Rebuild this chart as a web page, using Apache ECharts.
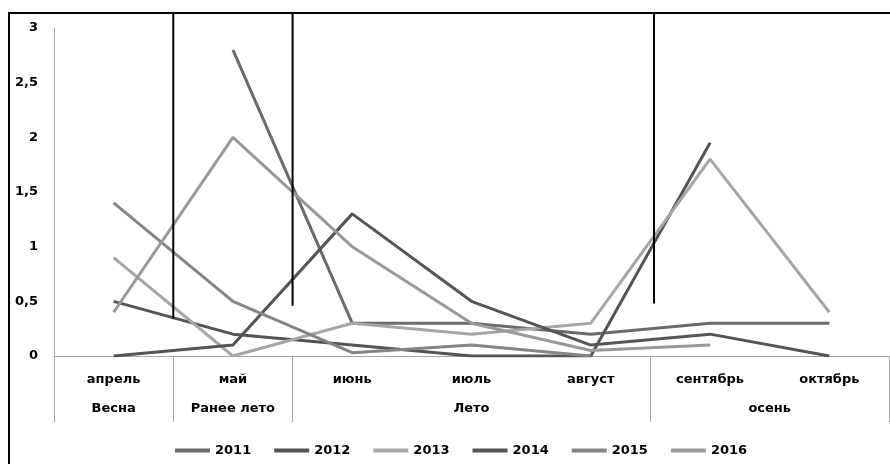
<!DOCTYPE html>
<html>
<head>
<meta charset="utf-8">
<script src="https://cdn.jsdelivr.net/npm/echarts@6/dist/echarts.min.js"></script>
<style>
  html, body { margin: 0; padding: 0; background: #fff; }
  #chart { width: 890px; height: 464px; }
</style>
</head>
<body>
<div id="chart"></div>
<script>
// Months on the inner axis row, seasons on the outer row
const months = ['апрель', 'май', 'июнь', 'июль', 'август', 'сентябрь', 'октябрь'];
const seasons = ['Весна', 'Ранее лето', 'Лето', 'осень'];
const seasonCenters = [0.5, 1.5, 3.5, 6];   // middle of each season span (in month units)
const seasonBounds = [0, 1, 2, 5, 7];        // season span borders (in month units)

// Values per year
const years = ['2011', '2012', '2013', '2014', '2015', '2016'];
const v2011 = [null, 2.8, 0.3, 0.3, 0.2, 0.3, 0.3];
const v2012 = [0.5, 0.2, 0.1, 0, 0, 1.95, null];
const v2013 = [0.9, 0, 0.3, 0.2, 0.3, 1.8, 0.4];
const v2014 = [0, 0.1, 1.3, 0.5, 0.1, 0.2, 0];
const v2015 = [1.4, 0.5, 0.03, 0.1, 0, null, null];
const v2016 = [0.4, 2.0, 1.0, 0.3, 0.05, 0.1, null];
const yearValues = [v2011, v2012, v2013, v2014, v2015, v2016];
const yearColors = ['#6b6b6b', '#545454', '#a6a6a6', '#555555', '#858585', '#999999'];

// Season divider strokes: position (month units) and the value where each stops
const dividerAt = [1, 2, 5.03];
const dividerEnd = [0.34, 0.46, 0.48];
const dividerTop = 3.14;

const FONT = 'DejaVu Sans';
const labelStyle = { color: '#000', fontFamily: FONT, fontWeight: 'bold', fontSize: 13 };

const chart = echarts.init(document.getElementById('chart'), null, { renderer: 'canvas' });

const option = {
  animation: false,
  backgroundColor: '#fff',
  grid: { left: 54, right: 1, top: 28, bottom: 108, containLabel: false },
  legend: {
    data: years,
    top: 439,
    left: 170,
    icon: 'rect',
    itemWidth: 35,
    itemHeight: 4,
    itemGap: 23,
    textStyle: labelStyle
  },
  xAxis: [
    {
      type: 'category',
      data: months,
      boundaryGap: true,
      position: 'bottom',
      axisLine: { show: true, lineStyle: { color: '#a6a6a6', width: 1 } },
      axisTick: { show: false },
      splitLine: { show: false },
      axisLabel: Object.assign({ margin: 17, interval: 0 }, labelStyle)
    },
    {
      type: 'value',
      min: 0,
      max: 7,
      position: 'bottom',
      axisLine: { show: false },
      splitLine: { show: false },
      axisTick: {
        show: true,
        customValues: seasonBounds,
        length: 66,
        lineStyle: { color: '#a6a6a6', width: 1 }
      },
      axisLabel: Object.assign({
        customValues: seasonCenters,
        margin: 46,
        formatter: function (v) {
          const i = seasonCenters.indexOf(v);
          return i >= 0 ? seasons[i] : '';
        }
      }, labelStyle)
    }
  ],
  yAxis: {
    type: 'value',
    min: 0,
    max: 3,
    interval: 0.5,
    axisLine: { show: true, lineStyle: { color: '#a6a6a6', width: 1 } },
    axisTick: { show: false },
    splitLine: { show: false },
    axisLabel: Object.assign({
      margin: 16,
      formatter: function (v) { return String(v).replace('.', ','); }
    }, labelStyle)
  },
  series: years.map(function (name, i) {
    return {
      name: name,
      type: 'line',
      data: yearValues[i],
      symbol: 'none',
      connectNulls: false,
      color: yearColors[i],
      lineStyle: { width: 3, color: yearColors[i] },
      emphasis: { disabled: true },
      silent: true
    };
  })
};

chart.setOption(option);

// Frame and season dividers, placed through the chart's own coordinate conversion
function drawOverlay() {
  const finder = { xAxisIndex: 1, yAxisIndex: 0 };
  const elements = [
    {
      type: 'rect',
      shape: { x: 9, y: 13, width: 900, height: 470 },
      style: { fill: 'none', stroke: '#000', lineWidth: 2 },
      silent: true
    }
  ];
  dividerAt.forEach(function (x, i) {
    const p0 = chart.convertToPixel(finder, [x, dividerTop]);
    const p1 = chart.convertToPixel(finder, [x, dividerEnd[i]]);
    elements.push({
      type: 'line',
      shape: { x1: p0[0], y1: p0[1], x2: p1[0], y2: p1[1] },
      style: { stroke: '#000', lineWidth: 2 },
      silent: true,
      z: 10
    });
  });
  chart.setOption({ graphic: { elements: elements } });
}
drawOverlay();
</script>
</body>
</html>
